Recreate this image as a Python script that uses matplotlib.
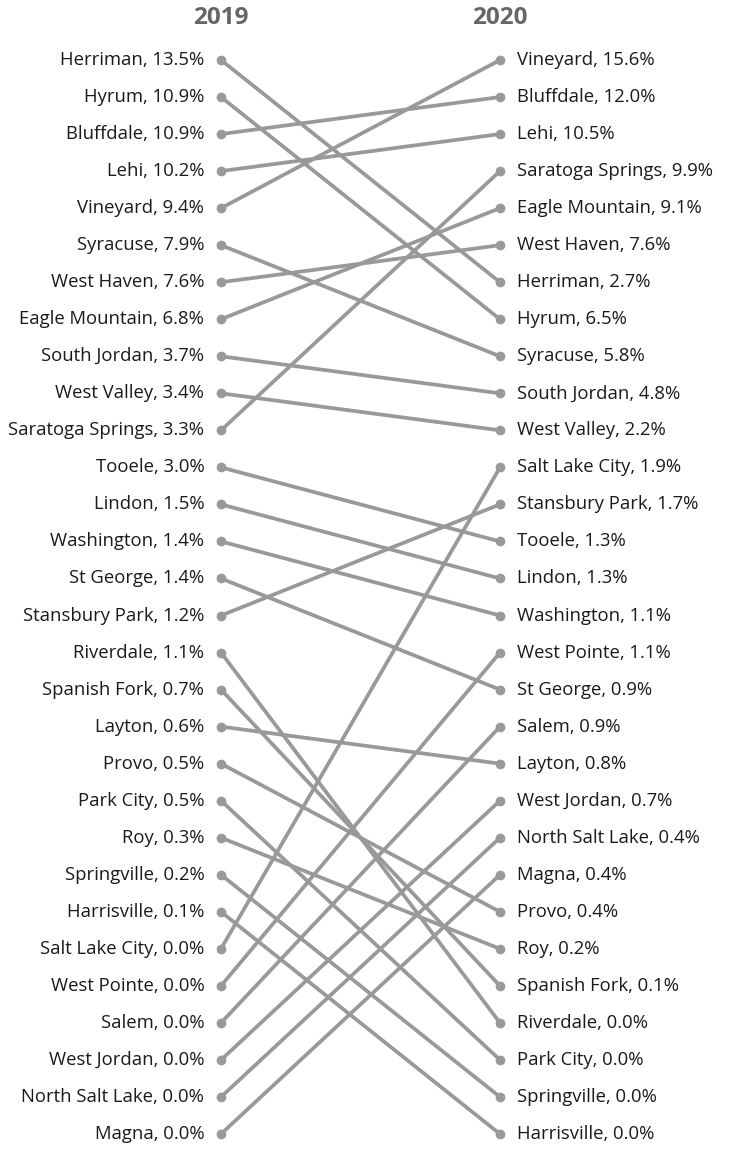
import matplotlib
matplotlib.use("Agg")
import matplotlib.pyplot as plt

cities_2019 = ["Herriman", "Hyrum", "Bluffdale", "Lehi", "Vineyard", "Syracuse", "West Haven",
               "Eagle Mountain", "South Jordan", "West Valley", "Saratoga Springs", "Tooele",
               "Lindon", "Washington", "St George", "Stansbury Park", "Riverdale", "Spanish Fork",
               "Layton", "Provo", "Park City", "Roy", "Springville", "Harrisville",
               "Salt Lake City", "West Pointe", "Salem", "West Jordan", "North Salt Lake", "Magna"]
values_2019 = [13.5, 10.9, 10.9, 10.2, 9.4, 7.9, 7.6, 6.8, 3.7, 3.4, 3.3, 3.0, 1.5, 1.4, 1.4, 1.2,
               1.1, 0.7, 0.6, 0.5, 0.5, 0.3, 0.2, 0.1, 0.0, 0.0, 0.0, 0.0, 0.0, 0.0]

cities_2020 = ["Vineyard", "Bluffdale", "Lehi", "Saratoga Springs", "Eagle Mountain", "West Haven",
               "Herriman", "Hyrum", "Syracuse", "South Jordan", "West Valley", "Salt Lake City",
               "Stansbury Park", "Tooele", "Lindon", "Washington", "West Pointe", "St George",
               "Salem", "Layton", "West Jordan", "North Salt Lake", "Magna", "Provo", "Roy",
               "Spanish Fork", "Riverdale", "Park City", "Springville", "Harrisville"]
values_2020 = [15.6, 12.0, 10.5, 9.9, 9.1, 7.6, 2.7, 6.5, 5.8, 4.8, 2.2, 1.9, 1.7, 1.3, 1.3, 1.1,
               1.1, 0.9, 0.9, 0.8, 0.7, 0.4, 0.4, 0.4, 0.2, 0.1, 0.0, 0.0, 0.0, 0.0]

years = ["2019", "2020"]

W, H = 735, 1157
fig = plt.figure(figsize=(W / 100, H / 100), dpi=100)
fig.patch.set_facecolor("white")
ax = fig.add_axes([221 / W, 1 - 1134 / H, (500 - 221) / W, (1134 - 60) / H])
ax.set_xlim(0, 1)
ax.set_ylim(len(cities_2019) - 1, 0)
ax.axis("off")

line_color = "#999999"
text_color = "#1a1a1a"
font = "Open Sans"

rank_2020 = {c: i for i, c in enumerate(cities_2020)}
for i, c in enumerate(cities_2019):
    j = rank_2020[c]
    ax.plot([0, 1], [i, j], color=line_color, lw=2.7, solid_capstyle="round",
            marker="o", markersize=6, clip_on=False, zorder=2)

for i, (c, v) in enumerate(zip(cities_2019, values_2019)):
    ax.annotate(f"{c}, {v:.1f}%", (0, i), xytext=(-12, 0), textcoords="offset points",
                ha="right", va="center", fontsize=13.3, color=text_color, family=font)
for i, (c, v) in enumerate(zip(cities_2020, values_2020)):
    ax.annotate(f"{c}, {v:.1f}%", (1, i), xytext=(12.5, 0), textcoords="offset points",
                ha="left", va="center", fontsize=13.3, color=text_color, family=font)

for k, y in enumerate(years):
    ax.annotate(y, (k, 0), xytext=(0, 30), textcoords="offset points",
                ha="center", va="center", fontsize=17.5, fontweight="bold",
                color="#666666", family=font)

fig.savefig("out.png", dpi=100)
